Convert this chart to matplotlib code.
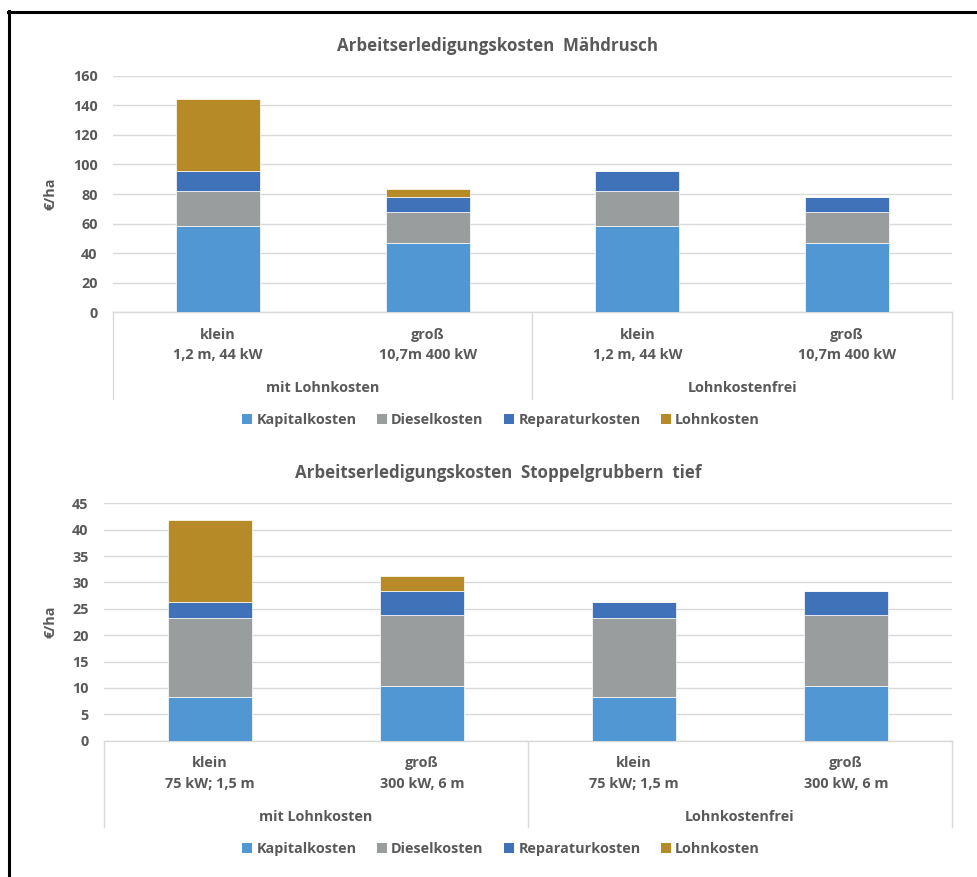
import matplotlib
matplotlib.use("Agg")
import matplotlib.pyplot as plt
from matplotlib.patches import Patch
from matplotlib.lines import Line2D
from matplotlib.transforms import blended_transform_factory

plt.rcParams['font.family'] = ['Open Sans', 'DejaVu Sans']
plt.rcParams['font.weight'] = 'bold'

# ---------------- data ----------------
series = ["Kapitalkosten", "Dieselkosten", "Reparaturkosten", "Lohnkosten"]
colors = ["#5097D3", "#9A9D9E", "#3F72B9", "#B68A27"]
groups = ["mit Lohnkosten", "Lohnkostenfrei"]

title1 = "Arbeitserledigungskosten  Mähdrusch"
sizes1 = ["klein", "groß", "klein", "groß"]
specs1 = ["1,2 m, 44 kW", "10,7m 400 kW", "1,2 m, 44 kW", "10,7m 400 kW"]
kapital1 = [58.6, 46.6, 58.6, 46.6]
diesel1 = [23.6, 21.2, 23.6, 21.2]
reparatur1 = [13.6, 9.9, 13.6, 9.9]
lohn1 = [48.2, 5.7, 0, 0]
yticks1 = [0, 20, 40, 60, 80, 100, 120, 140, 160]

title2 = "Arbeitserledigungskosten  Stoppelgrubbern  tief"
sizes2 = ["klein", "groß", "klein", "groß"]
specs2 = ["75 kW; 1,5 m", "300 kW, 6 m", "75 kW; 1,5 m", "300 kW, 6 m"]
kapital2 = [8.35, 10.4, 8.35, 10.4]
diesel2 = [15.0, 13.4, 15.0, 13.4]
reparatur2 = [2.9, 4.5, 2.9, 4.5]
lohn2 = [15.6, 2.9, 0, 0]
yticks2 = [0, 5, 10, 15, 20, 25, 30, 35, 40, 45]

W, H = 978, 877
TXT = "#595959"
GRID = "#D9D9D9"
FS = 10.4
FS_T = 12.2

fig = plt.figure(figsize=(W / 100, H / 100), dpi=100)
fig.patch.set_facecolor("white")


def fx(px):
    return px / W


def fy(py):
    return 1 - py / H


def draw_chart(left, right, top, bottom, ymax, yticks, stacks, sizes, specs,
               title, title_y, size_y, spec_y, group_y, sep_bottom, legend_y, ylabel_x):
    ax = fig.add_axes([fx(left), fy(bottom), fx(right - left), (bottom - top) / H])
    x = list(range(len(sizes)))
    base = [0.0] * len(x)
    for vals, col in zip(stacks, colors):
        ax.bar(x, vals, width=0.4, bottom=base, color=col,
               edgecolor="white", linewidth=0.5, zorder=3)
        base = [b + v for b, v in zip(base, vals)]
    ax.set_xlim(-0.5, len(x) - 0.5)
    ax.set_ylim(0, ymax)
    ax.set_yticks(yticks)
    ax.set_yticklabels([str(t) for t in yticks], fontsize=FS,
                       color=TXT, fontweight="bold")
    ax.tick_params(axis="y", length=0, pad=11)
    ax.tick_params(axis="x", length=0, labelbottom=False)
    ax.grid(axis="y", color=GRID, linewidth=1, zorder=0)
    for s in ["top", "right", "left"]:
        ax.spines[s].set_visible(False)
    ax.spines["bottom"].set_color(GRID)
    ax.spines["bottom"].set_linewidth(1)
    ax.set_ylabel("€/ha", fontsize=FS, color=TXT, fontweight="bold")
    ax.yaxis.set_label_coords((ylabel_x - left) / (right - left), 0.5)

    # category axis separators
    for xa in [0.0, 0.5, 1.0]:
        xp = left + xa * (right - left)
        fig.add_artist(Line2D([fx(xp), fx(xp)], [fy(bottom), fy(sep_bottom)],
                              color=GRID, linewidth=1))
    tr = blended_transform_factory(ax.transData, fig.transFigure)
    for i in x:
        ax.text(i, fy(size_y), sizes[i], transform=tr, ha="center", va="center",
                fontsize=FS, color=TXT, fontweight="bold")
        ax.text(i, fy(spec_y), specs[i], transform=tr, ha="center", va="center",
                fontsize=FS, color=TXT, fontweight="bold")
    for g, name in enumerate(groups):
        ax.text(0.5 + 2 * g, fy(group_y), name, transform=tr, ha="center",
                va="center", fontsize=FS, color=TXT, fontweight="bold")

    fig.text(fx(498), fy(title_y), title, ha="center", va="center",
             fontsize=FS_T, color=TXT, fontweight="bold")

    handles = [Patch(facecolor=c, edgecolor="none") for c in colors]
    fig.legend(handles, series, loc="center",
               bbox_to_anchor=(fx(501), fy(legend_y)), ncol=4, frameon=False,
               handlelength=0.7, handleheight=0.7, handletextpad=0.3,
               columnspacing=1.4,
               prop={"size": FS, "weight": "bold"}, labelcolor=TXT)
    return ax


draw_chart(113, 952, 75.7, 312.3, 160, yticks1,
           [kapital1, diesel1, reparatur1, lohn1], sizes1, specs1,
           title1, 46, 335, 355, 388, 399, 420, 58)
draw_chart(104, 952, 503.3, 740.7, 45, yticks2,
           [kapital2, diesel2, reparatur2, lohn2], sizes2, specs2,
           title2, 473, 763, 784, 817, 827, 849, 58)

# outer frame (top and left edges visible)
fig.add_artist(Line2D([fx(8), fx(978)], [fy(12), fy(12)], color="black", linewidth=2.2))
fig.add_artist(Line2D([fx(8.5), fx(8.5)], [fy(11), fy(877)], color="black", linewidth=2.2))

fig.savefig("out.png", dpi=100, facecolor="white")
